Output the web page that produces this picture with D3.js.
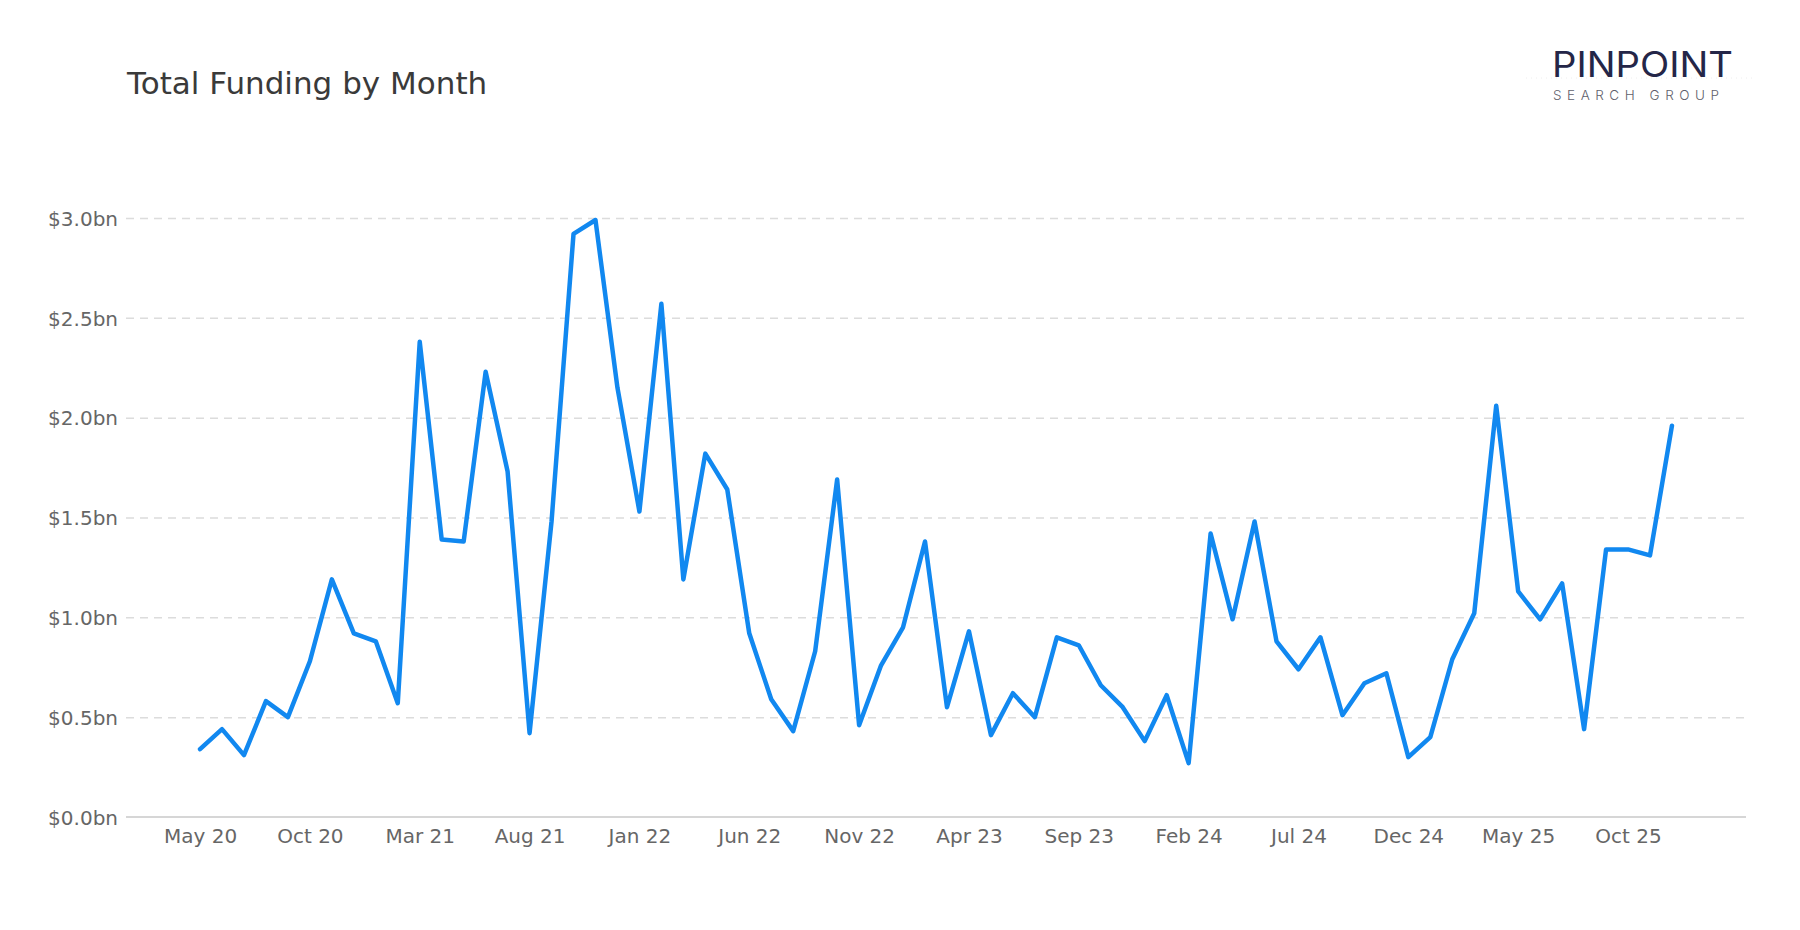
<!DOCTYPE html>
<html lang="en">
<head>
  <meta charset="UTF-8">
  <title>Total Funding by Month</title>
  <script src="https://d3js.org/d3.v7.min.js"></script>
  <style>
    body { margin: 0; padding: 0; background: #fff; font-family: "DejaVu Sans", sans-serif; }
    svg { display: block; }
    .grid line { stroke: #dcdcdc; stroke-width: 1.5px; stroke-dasharray: 8,6; }
    .tick text { fill: #666; font-size: 20px; font-family: "DejaVu Sans", sans-serif; }
  </style>
</head>
<body>
  <div id="chart"></div>

  <script>
    const width = 1800;
    const height = 930;

    const months = [
      "May 20","Jun 20","Jul 20","Aug 20","Sep 20","Oct 20","Nov 20","Dec 20",
      "Jan 21","Feb 21","Mar 21","Apr 21","May 21","Jun 21","Jul 21","Aug 21","Sep 21","Oct 21","Nov 21","Dec 21",
      "Jan 22","Feb 22","Mar 22","Apr 22","May 22","Jun 22","Jul 22","Aug 22","Sep 22","Oct 22","Nov 22","Dec 22",
      "Jan 23","Feb 23","Mar 23","Apr 23","May 23","Jun 23","Jul 23","Aug 23","Sep 23","Oct 23","Nov 23","Dec 23",
      "Jan 24","Feb 24","Mar 24","Apr 24","May 24","Jun 24","Jul 24","Aug 24","Sep 24","Oct 24","Nov 24","Dec 24",
      "Jan 25","Feb 25","Mar 25","Apr 25","May 25","Jun 25","Jul 25","Aug 25","Sep 25","Oct 25","Nov 25","Dec 25"
    ];

    // total funding, $bn
    const funding = [
      0.34, 0.44, 0.31, 0.58, 0.50, 0.78, 1.19, 0.92,
      0.88, 0.57, 2.38, 1.39, 1.38, 2.23, 1.73, 0.42, 1.48, 2.92, 2.99, 2.15,
      1.53, 2.57, 1.19, 1.82, 1.64, 0.92, 0.59, 0.43, 0.83, 1.69, 0.46, 0.76,
      0.95, 1.38, 0.55, 0.93, 0.41, 0.62, 0.50, 0.90, 0.86, 0.66, 0.55, 0.38,
      0.61, 0.27, 1.42, 0.99, 1.48, 0.88, 0.74, 0.90, 0.51, 0.67, 0.72, 0.30,
      0.40, 0.79, 1.02, 2.06, 1.13, 0.99, 1.17, 0.44, 1.34, 1.34, 1.31, 1.96
    ];

    const tickLabels = ["May 20","Oct 20","Mar 21","Aug 21","Jan 22","Jun 22","Nov 22",
                        "Apr 23","Sep 23","Feb 24","Jul 24","Dec 24","May 25","Oct 25"];
    const yTicks = [0, 0.5, 1.0, 1.5, 2.0, 2.5, 3.0];

    const margin = { top: 218, right: 54, bottom: 113, left: 126 };

    const svg = d3.select("#chart")
      .append("svg")
      .attr("width", width)
      .attr("height", height);

    const x = d3.scalePoint()
      .domain(months)
      .range([margin.left, width - margin.right])
      .padding(3.37);

    const y = d3.scaleLinear()
      .domain([0, 3.0])
      .range([height - margin.bottom, margin.top]);

    // title
    svg.append("text")
      .attr("x", 127)
      .attr("y", 94)
      .attr("fill", "#3a3a3a")
      .style("font-size", "31px")
      .style("font-family", "'DejaVu Sans', sans-serif")
      .text("Total Funding by Month");

    // logo
    const logo = svg.append("g");
    logo.append("line")
      .attr("x1", 1526).attr("x2", 1752)
      .attr("y1", 78).attr("y2", 78)
      .attr("stroke", "#eee")
      .attr("stroke-dasharray", "1,4");
    logo.append("text")
      .attr("x", 1552)
      .attr("y", 77)
      .attr("textLength", 181)
      .attr("lengthAdjust", "spacingAndGlyphs")
      .attr("fill", "#242648")
      .style("font-family", "Inter, 'Open Sans', sans-serif")
      .style("font-weight", 400)
      .style("font-size", "35px")
      .text("PINPOINT");
    logo.append("text")
      .attr("x", 1553)
      .attr("y", 100)
      .attr("textLength", 166)
      .attr("lengthAdjust", "spacing")
      .attr("fill", "#5f5f6c")
      .style("font-family", "Inter, 'Open Sans', sans-serif")
      .style("font-weight", 300)
      .style("font-size", "13.5px")
      .text("SEARCH GROUP");

    // y grid + labels
    const yAxis = svg.append("g")
      .attr("class", "grid")
      .attr("transform", `translate(${margin.left},0)`)
      .call(d3.axisLeft(y)
        .tickValues(yTicks)
        .tickSize(-(width - margin.left - margin.right))
        .tickPadding(8)
        .tickFormat(d => "$" + d3.format(".1f")(d) + "bn"));
    yAxis.select(".domain").remove();
    yAxis.selectAll(".tick").filter(d => d === 0).select("line").remove();
    yAxis.selectAll(".tick text").attr("dy", "0.36em");

    // x axis
    const xAxis = svg.append("g")
      .attr("transform", `translate(0,${height - margin.bottom})`)
      .call(d3.axisBottom(x).tickValues(tickLabels).tickSize(0).tickPadding(12));
    xAxis.select(".domain")
      .attr("stroke", "#c8c8c8")
      .attr("stroke-width", 1.5)
      .attr("d", `M${margin.left},0H${width - margin.right}`);

    // line
    const line = d3.line()
      .x((d, i) => x(months[i]))
      .y(d => y(d));

    svg.append("path")
      .datum(funding)
      .attr("fill", "none")
      .attr("stroke", "#1188f0")
      .attr("stroke-width", 4.5)
      .attr("stroke-linejoin", "round")
      .attr("stroke-linecap", "round")
      .attr("d", line);
  </script>
</body>
</html>
